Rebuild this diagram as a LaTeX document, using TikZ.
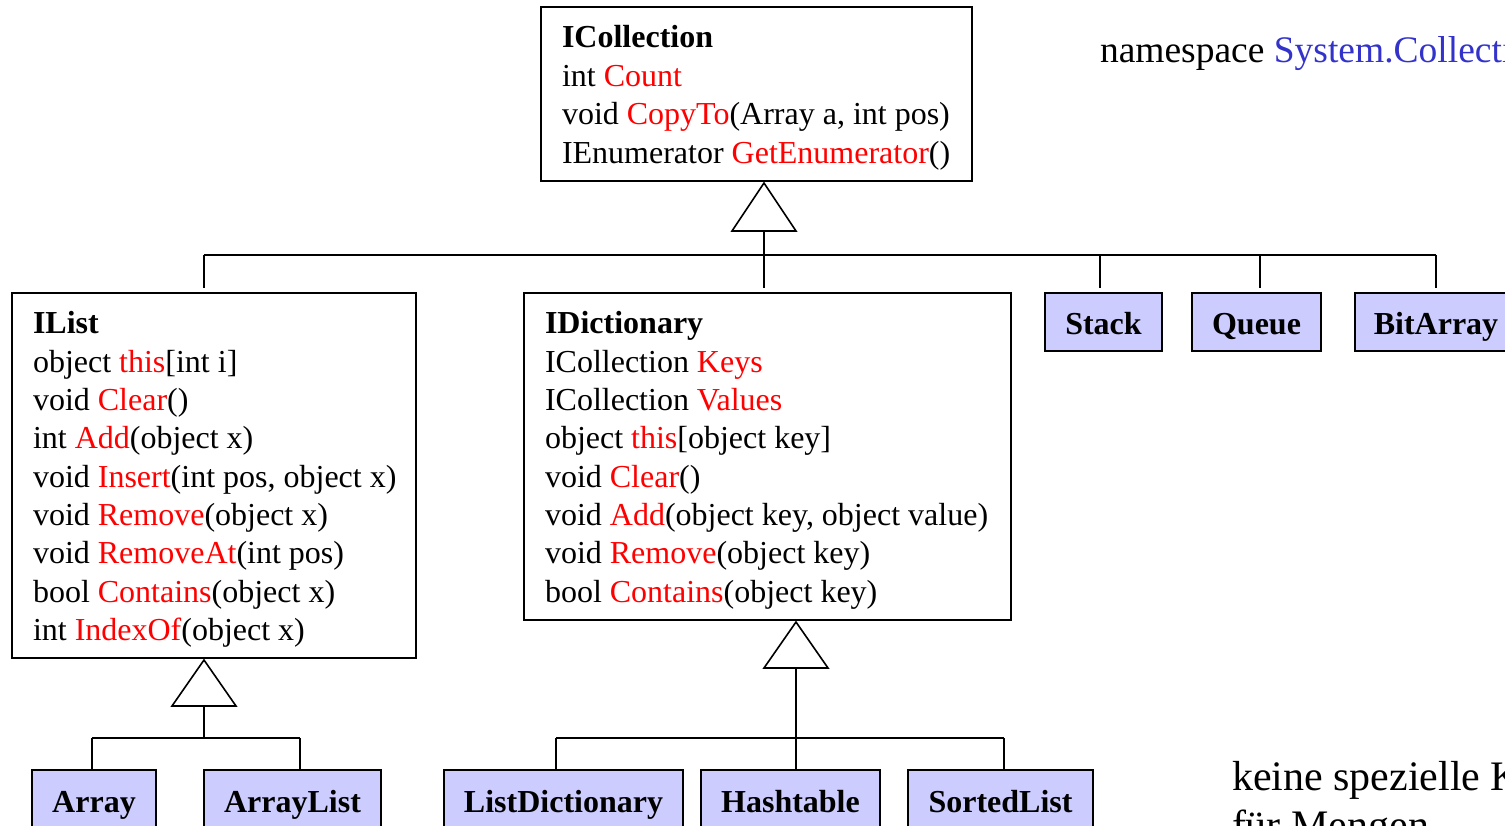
\documentclass[tikz,border=0pt]{standalone}
\usepackage{fontspec}
\setmainfont{Liberation Serif}
\usetikzlibrary{calc}
\definecolor{member}{RGB}{255,0,0}
\definecolor{nsblue}{RGB}{51,51,204}
\definecolor{classfill}{RGB}{204,204,255}
\newcommand{\mb}[1]{\textcolor{member}{#1}}

\begin{document}
\begin{tikzpicture}[x=1pt,y=-1pt,
  every node/.style={inner sep=0pt, outer sep=0pt},
  ibox/.style={draw=black, line width=1.4pt, fill=white},
  cbox/.style={draw=black, line width=1.4pt, fill=classfill,
    font=\bfseries\fontsize{32}{38}\selectfont, text height=26pt, text depth=0pt,
    minimum height=58pt},
  txt/.style={anchor=base west, font=\fontsize{32}{38}\selectfont},
  conn/.style={line width=1.6pt},
  gen/.style={line width=1.6pt, fill=white, line join=miter}]

\useasboundingbox (0,0) rectangle (1505,826);
\clip (0,0) rectangle (1505,826);

% ---------- interfaces ----------
\node[ibox, minimum width=431pt, minimum height=174pt] (icoll) at (756.5,94) {};
\node[ibox, minimum width=404pt, minimum height=365pt] (ilist) at (214,475.5) {};
\node[ibox, minimum width=487pt, minimum height=327pt] (idict) at (767.5,456.5) {};

\foreach \t [count=\i from 0] in
  {{\textbf{ICollection}},
   {int \mb{Count}},
   {void \mb{CopyTo}(Array a, int pos)},
   {IEnumerator \mb{GetEnumerator}()}}
  \node[txt] (ic-\i) at (562, 48+38.5*\i) {\t};

\foreach \t [count=\i from 0] in
  {{\textbf{IList}},
   {object \mb{this}[int i]},
   {void \mb{Clear}()},
   {int \mb{Add}(object x)},
   {void \mb{Insert}(int pos, object x)},
   {void \mb{Remove}(object x)},
   {void \mb{RemoveAt}(int pos)},
   {bool \mb{Contains}(object x)},
   {int \mb{IndexOf}(object x)}}
  \node[txt] (il-\i) at (33, 334+38.3*\i) {\t};

\foreach \t [count=\i from 0] in
  {{\textbf{IDictionary}},
   {ICollection \mb{Keys}},
   {ICollection \mb{Values}},
   {object \mb{this}[object key]},
   {void \mb{Clear}()},
   {void \mb{Add}(object key, object value)},
   {void \mb{Remove}(object key)},
   {bool \mb{Contains}(object key)}}
  \node[txt] (id-\i) at (545, 334+38.3*\i) {\t};

% ---------- concrete classes ----------
\node[cbox, minimum width=117pt] (stack)    at (1103.5,322) {Stack};
\node[cbox, minimum width=129pt] (queue)    at (1256.5,322) {Queue};
\node[cbox, minimum width=162pt] (bitarray) at (1436,322)   {BitArray};

\node[cbox, minimum width=124pt] (array)     at (94,799)    {Array};
\node[cbox, minimum width=177pt] (arraylist) at (292.5,799) {ArrayList};

\node[cbox, minimum width=239pt] (listdict)  at (563.5,799)  {ListDictionary};
\node[cbox, minimum width=179pt] (hashtable) at (790.5,799)  {Hashtable};
\node[cbox, minimum width=185pt] (sortedlist) at (1000.5,799) {SortedList};

% ---------- inheritance from ICollection ----------
\coordinate (g1) at (764,183);
\coordinate (g1b) at (764,231);
\coordinate (bus1L) at (204,255);
\coordinate (bus1R) at (1436,255);
\coordinate (d1) at (1100,255);
\coordinate (d2) at (1260,255);
\draw[conn] (bus1L) -- (bus1R);
\draw[conn, shorten >=5pt] (g1b) -- (idict.north -| g1b);
\draw[conn, shorten >=5pt] (bus1L) -- (ilist.north -| bus1L);
\draw[conn, shorten >=5pt] (d1) -- (stack.north -| d1);
\draw[conn, shorten >=5pt] (d2) -- (queue.north -| d2);
\draw[conn, shorten >=5pt] (bus1R) -- (bitarray.north -| bus1R);
\draw[gen] (g1) -- ++(32,48) -- ++(-64,0) -- cycle;

% ---------- inheritance from IList ----------
\coordinate (g2) at (204,660);
\coordinate (g2b) at (204,706);
\coordinate (j2) at (204,738);
\coordinate (bus2L) at (92,738);
\coordinate (bus2R) at (300,738);
\draw[conn] (g2b) -- (j2);
\draw[conn] (bus2L) -- (bus2R);
\draw[conn] (bus2L) -- (array.north -| bus2L);
\draw[conn] (bus2R) -- (arraylist.north -| bus2R);
\draw[gen] (g2) -- ++(32,46) -- ++(-64,0) -- cycle;

% ---------- inheritance from IDictionary ----------
\coordinate (g3) at (796,622);
\coordinate (g3b) at (796,668);
\coordinate (bus3L) at (556,738);
\coordinate (bus3R) at (1004,738);
\draw[conn] (g3b) -- (hashtable.north -| g3b);
\draw[conn] (bus3L) -- (bus3R);
\draw[conn] (bus3L) -- (listdict.north -| bus3L);
\draw[conn] (bus3R) -- (sortedlist.north -| bus3R);
\draw[gen] (g3) -- ++(32,46) -- ++(-64,0) -- cycle;

% ---------- annotations ----------
\node[anchor=base west, font=\fontsize{37.5}{44}\selectfont] (ns) at (1100,63)
  {namespace \textcolor{nsblue}{System.Collections}};
\node[anchor=base west, font=\fontsize{42}{48}\selectfont] (note1) at (1232,790)
  {keine spezielle Klasse};
\node[anchor=base west, font=\fontsize{42}{48}\selectfont] (note2) at (1232,839)
  {für Mengen};
\end{tikzpicture}
\end{document}
